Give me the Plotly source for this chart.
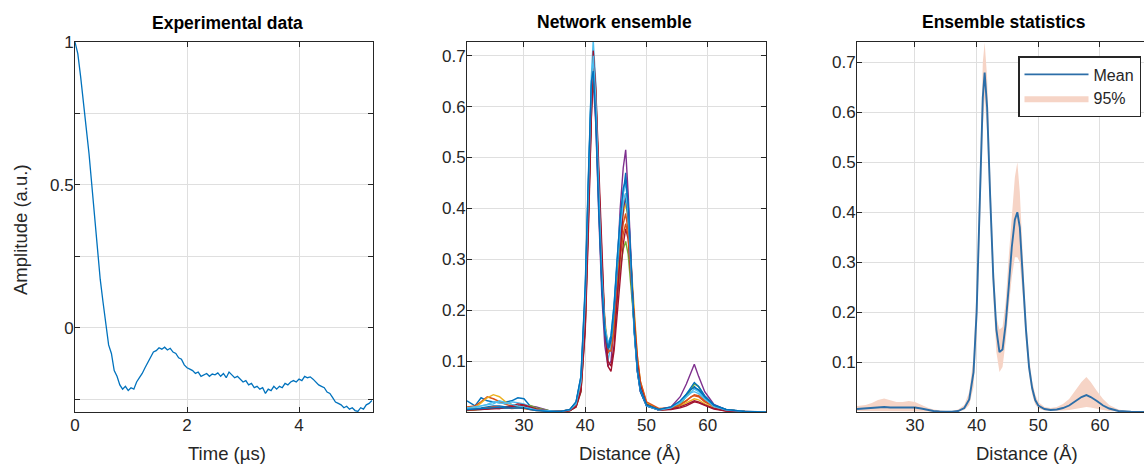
import plotly.graph_objects as go

# ---------------- Data ----------------
# Panel 1: experimental time trace
time_us = [0.00, 0.05, 0.10, 0.15, 0.20, 0.25, 0.30, 0.35, 0.40, 0.45,
           0.50, 0.55, 0.60, 0.65, 0.70, 0.75, 0.80, 0.85, 0.90, 0.95,
           1.00, 1.05, 1.10, 1.15, 1.20, 1.25, 1.30, 1.35, 1.40, 1.45,
           1.50, 1.55, 1.60, 1.65, 1.70, 1.75, 1.80, 1.85, 1.90, 1.95,
           2.00, 2.05, 2.10, 2.15, 2.20, 2.25, 2.30, 2.35, 2.40, 2.45,
           2.50, 2.55, 2.60, 2.65, 2.70, 2.75, 2.80, 2.85, 2.90, 2.95,
           3.00, 3.05, 3.10, 3.15, 3.20, 3.25, 3.30, 3.35, 3.40, 3.45,
           3.50, 3.55, 3.60, 3.65, 3.70, 3.75, 3.80, 3.85, 3.90, 3.95,
           4.00, 4.05, 4.10, 4.15, 4.20, 4.25, 4.30, 4.35, 4.40, 4.45,
           4.50, 4.55, 4.60, 4.65, 4.70, 4.75, 4.80, 4.85, 4.90, 4.95,
           5.00, 5.05, 5.10, 5.15, 5.20, 5.25, 5.30]
amplitude = [1.00, 0.96, 0.88, 0.78, 0.70, 0.61, 0.50, 0.40, 0.28, 0.17,
             0.09, 0.01, -0.06, -0.09, -0.15, -0.17, -0.20, -0.215, -0.205, -0.22,
             -0.21, -0.215, -0.19, -0.175, -0.16, -0.14, -0.12, -0.10, -0.085, -0.08,
             -0.07, -0.075, -0.068, -0.078, -0.072, -0.085, -0.09, -0.105, -0.11, -0.13,
             -0.14, -0.145, -0.15, -0.16, -0.155, -0.17, -0.165, -0.16, -0.17, -0.162,
             -0.165, -0.158, -0.17, -0.16, -0.175, -0.155, -0.165, -0.175, -0.17, -0.18,
             -0.19, -0.185, -0.20, -0.195, -0.21, -0.205, -0.215, -0.21, -0.23, -0.215,
             -0.22, -0.205, -0.215, -0.205, -0.21, -0.195, -0.20, -0.19, -0.185, -0.19,
             -0.18, -0.185, -0.17, -0.175, -0.172, -0.18, -0.19, -0.20, -0.205, -0.21,
             -0.225, -0.23, -0.245, -0.26, -0.265, -0.27, -0.28, -0.275, -0.285, -0.28,
             -0.29, -0.293, -0.28, -0.285, -0.27, -0.265, -0.255]

# Panel 2: network ensemble distance distributions
dist = [20.7, 22, 23, 24, 25, 26, 27, 28, 29, 30, 31, 32, 34, 36,
        37.5, 38.5, 39.3, 40, 40.5, 41, 41.3, 41.7, 42.2, 42.7, 43.2, 43.7,
        44.2, 44.7, 45.2, 45.7, 46.2, 46.6, 47, 47.5, 48, 48.5, 49, 50,
        52, 54, 55.5, 56.5, 57.3, 57.8, 58.5, 59.5, 61, 63, 66, 69.5]

net_01 = [0.022, 0.012, 0.028, 0.022, 0.020, 0.018, 0.020, 0.022, 0.028, 0.026, 0.012, 0.006, 0.002, 0.001,
          0.004, 0.016, 0.055, 0.21, 0.41, 0.63, 0.68, 0.61, 0.43, 0.27, 0.17, 0.13,
          0.14, 0.20, 0.29, 0.37, 0.43, 0.47, 0.41, 0.28, 0.16, 0.08, 0.04, 0.012,
          0.004, 0.008, 0.020, 0.032, 0.045, 0.050, 0.042, 0.028, 0.012, 0.004, 0.001, 0.0]
net_02 = [0.010, 0.012, 0.020, 0.030, 0.026, 0.020, 0.015, 0.012, 0.010, 0.009, 0.006, 0.004, 0.002, 0.001,
          0.005, 0.018, 0.06, 0.20, 0.40, 0.61, 0.67, 0.60, 0.43, 0.27, 0.16, 0.115,
          0.125, 0.175, 0.25, 0.32, 0.37, 0.39, 0.355, 0.26, 0.165, 0.095, 0.055, 0.016,
          0.006, 0.008, 0.015, 0.022, 0.030, 0.032, 0.030, 0.020, 0.010, 0.004, 0.001, 0.0]
net_03 = [0.005, 0.008, 0.018, 0.028, 0.034, 0.030, 0.020, 0.015, 0.012, 0.010, 0.007, 0.004, 0.002, 0.001,
          0.003, 0.012, 0.045, 0.18, 0.38, 0.62, 0.69, 0.63, 0.46, 0.29, 0.18, 0.13,
          0.135, 0.185, 0.26, 0.34, 0.39, 0.41, 0.38, 0.29, 0.19, 0.11, 0.06, 0.018,
          0.005, 0.006, 0.012, 0.018, 0.024, 0.026, 0.024, 0.016, 0.008, 0.003, 0.001, 0.0]
net_04 = [0.004, 0.005, 0.006, 0.008, 0.010, 0.010, 0.009, 0.010, 0.012, 0.014, 0.012, 0.010, 0.003, 0.001,
          0.003, 0.012, 0.05, 0.19, 0.39, 0.60, 0.65, 0.57, 0.39, 0.23, 0.13, 0.09,
          0.10, 0.17, 0.28, 0.40, 0.48, 0.515, 0.43, 0.29, 0.16, 0.08, 0.04, 0.012,
          0.005, 0.010, 0.030, 0.055, 0.078, 0.094, 0.070, 0.040, 0.015, 0.004, 0.001, 0.0]
net_05 = [0.003, 0.004, 0.005, 0.006, 0.007, 0.008, 0.009, 0.010, 0.011, 0.012, 0.013, 0.008, 0.003, 0.001,
          0.003, 0.010, 0.04, 0.17, 0.37, 0.60, 0.66, 0.60, 0.44, 0.28, 0.17, 0.125,
          0.13, 0.17, 0.22, 0.28, 0.32, 0.335, 0.31, 0.24, 0.16, 0.10, 0.055, 0.016,
          0.004, 0.006, 0.014, 0.030, 0.045, 0.055, 0.050, 0.030, 0.012, 0.004, 0.001, 0.0]
net_06 = [0.008, 0.010, 0.012, 0.015, 0.020, 0.018, 0.016, 0.020, 0.018, 0.016, 0.010, 0.005, 0.002, 0.001,
          0.004, 0.018, 0.065, 0.23, 0.44, 0.66, 0.73, 0.65, 0.46, 0.28, 0.17, 0.10,
          0.13, 0.20, 0.30, 0.38, 0.43, 0.45, 0.40, 0.28, 0.16, 0.085, 0.045, 0.013,
          0.004, 0.008, 0.018, 0.030, 0.038, 0.040, 0.036, 0.024, 0.010, 0.003, 0.001, 0.0]
net_07 = [0.006, 0.006, 0.007, 0.006, 0.008, 0.007, 0.010, 0.012, 0.016, 0.014, 0.010, 0.006, 0.002, 0.001,
          0.003, 0.010, 0.04, 0.16, 0.35, 0.58, 0.66, 0.62, 0.46, 0.29, 0.16, 0.09,
          0.08, 0.12, 0.19, 0.27, 0.33, 0.36, 0.34, 0.26, 0.17, 0.10, 0.055, 0.015,
          0.004, 0.005, 0.008, 0.012, 0.017, 0.020, 0.018, 0.013, 0.006, 0.002, 0.0005, 0.0]
net_08 = [0.005, 0.006, 0.008, 0.010, 0.012, 0.012, 0.010, 0.010, 0.010, 0.009, 0.006, 0.004, 0.002, 0.001,
          0.005, 0.020, 0.07, 0.24, 0.45, 0.64, 0.68, 0.60, 0.41, 0.25, 0.155, 0.12,
          0.14, 0.20, 0.28, 0.35, 0.40, 0.42, 0.38, 0.27, 0.155, 0.08, 0.04, 0.012,
          0.004, 0.009, 0.020, 0.035, 0.050, 0.058, 0.050, 0.032, 0.014, 0.005, 0.001, 0.0]
net_09 = [0.004, 0.005, 0.006, 0.008, 0.010, 0.009, 0.008, 0.007, 0.008, 0.007, 0.005, 0.003, 0.002, 0.001,
          0.004, 0.014, 0.05, 0.19, 0.39, 0.62, 0.70, 0.63, 0.45, 0.28, 0.17, 0.12,
          0.12, 0.16, 0.23, 0.30, 0.35, 0.37, 0.345, 0.27, 0.18, 0.11, 0.06, 0.02,
          0.007, 0.008, 0.014, 0.022, 0.030, 0.034, 0.032, 0.022, 0.011, 0.004, 0.001, 0.0]
net_10 = [0.004, 0.004, 0.005, 0.006, 0.006, 0.007, 0.008, 0.010, 0.013, 0.012, 0.008, 0.005, 0.002, 0.001,
          0.003, 0.011, 0.045, 0.17, 0.37, 0.60, 0.71, 0.64, 0.47, 0.30, 0.17, 0.10,
          0.09, 0.13, 0.22, 0.32, 0.40, 0.43, 0.39, 0.28, 0.17, 0.095, 0.05, 0.014,
          0.004, 0.006, 0.010, 0.015, 0.020, 0.022, 0.020, 0.014, 0.007, 0.002, 0.0005, 0.0]
net_11 = [0.007, 0.008, 0.012, 0.014, 0.016, 0.022, 0.018, 0.015, 0.012, 0.010, 0.007, 0.004, 0.002, 0.001,
          0.004, 0.016, 0.06, 0.22, 0.43, 0.64, 0.70, 0.62, 0.44, 0.27, 0.17, 0.135,
          0.15, 0.21, 0.29, 0.36, 0.41, 0.43, 0.39, 0.27, 0.16, 0.085, 0.045, 0.013,
          0.004, 0.008, 0.020, 0.030, 0.040, 0.045, 0.040, 0.026, 0.011, 0.004, 0.001, 0.0]
net_12 = [0.005, 0.006, 0.007, 0.008, 0.009, 0.009, 0.008, 0.008, 0.009, 0.008, 0.005, 0.003, 0.001, 0.001,
          0.005, 0.020, 0.07, 0.25, 0.46, 0.65, 0.67, 0.58, 0.40, 0.25, 0.16, 0.125,
          0.15, 0.21, 0.30, 0.38, 0.44, 0.455, 0.41, 0.29, 0.165, 0.085, 0.045, 0.014,
          0.005, 0.010, 0.022, 0.035, 0.045, 0.048, 0.044, 0.030, 0.013, 0.005, 0.001, 0.0]

networks = [net_01, net_02, net_03, net_04, net_05, net_06,
            net_07, net_08, net_09, net_10, net_11, net_12]
net_colors = ["#0072BD", "#D95319", "#EDB120", "#7E2F8E", "#77AC30", "#4DBEEE",
              "#A2142F", "#0072BD", "#D95319", "#A2142F", "#4DBEEE", "#0072BD"]

# Panel 3: ensemble statistics
dist_stat = [20.6, 22, 23, 24, 25, 26, 27, 28, 29, 30, 31, 32, 33, 34, 35, 36, 37, 38, 38.8, 39.5,
             40, 40.5, 41, 41.3, 41.7, 42.2, 42.7, 43.2, 43.7, 44.2, 44.7, 45.2, 45.7, 46.2, 46.6,
             47, 47.5, 48, 48.5, 49, 49.5, 50, 51, 52, 53, 54, 55, 56, 57, 57.8, 58.5, 59.5,
             60.5, 61.5, 63, 65, 67.2]
mean_vals = [0.006, 0.007, 0.008, 0.009, 0.010, 0.009, 0.009, 0.008, 0.009, 0.009, 0.007, 0.004, 0.002,
             0.001, 0.0005, 0.0008, 0.002, 0.008, 0.025, 0.08,
             0.20, 0.41, 0.63, 0.68, 0.61, 0.43, 0.27, 0.165, 0.12, 0.125, 0.175, 0.25, 0.33, 0.385, 0.40,
             0.37, 0.27, 0.165, 0.09, 0.048, 0.024, 0.013, 0.006, 0.004, 0.005, 0.008, 0.013, 0.021, 0.030,
             0.034, 0.030, 0.022, 0.013, 0.007, 0.002, 0.0005, 0.0]
upper_95 = [0.012, 0.014, 0.018, 0.024, 0.027, 0.024, 0.020, 0.020, 0.022, 0.020, 0.014, 0.009, 0.005,
            0.003, 0.002, 0.002, 0.005, 0.014, 0.04, 0.11,
            0.25, 0.47, 0.70, 0.74, 0.67, 0.48, 0.31, 0.19, 0.165, 0.17, 0.22, 0.31, 0.40, 0.47, 0.50,
            0.44, 0.31, 0.19, 0.11, 0.062, 0.035, 0.020, 0.010, 0.008, 0.010, 0.016, 0.026, 0.042, 0.060,
            0.070, 0.060, 0.042, 0.026, 0.014, 0.005, 0.001, 0.0]
lower_95 = [0.002, 0.002, 0.002, 0.002, 0.002, 0.002, 0.002, 0.002, 0.002, 0.002, 0.001, 0.001, 0.0,
            0.0, 0.0, 0.0, 0.001, 0.004, 0.014, 0.05,
            0.15, 0.35, 0.57, 0.63, 0.56, 0.39, 0.23, 0.12, 0.08, 0.09, 0.14, 0.21, 0.27, 0.31, 0.31,
            0.30, 0.23, 0.14, 0.075, 0.035, 0.015, 0.007, 0.003, 0.002, 0.002, 0.003, 0.004, 0.006, 0.009,
            0.010, 0.009, 0.006, 0.004, 0.002, 0.001, 0.0, 0.0]

assert len(time_us) == len(amplitude)
assert all(len(n) == len(dist) for n in networks)
assert len(dist_stat) == len(mean_vals) == len(upper_95) == len(lower_95)

# ---------------- Figure ----------------
FONT = "Liberation Sans, Arial, sans-serif"
TXT = "#262626"
GRID = "#DFDFDF"
W, H = 1144, 466

fig = go.Figure()

fig.add_trace(go.Scatter(x=time_us, y=amplitude, mode="lines",
                         line=dict(color="#0072BD", width=1.3),
                         showlegend=False, xaxis="x", yaxis="y"))

for vals, col in zip(networks, net_colors):
    fig.add_trace(go.Scatter(x=dist, y=vals, mode="lines",
                             line=dict(color=col, width=1.4),
                             showlegend=False, xaxis="x2", yaxis="y2"))

fig.add_trace(go.Scatter(x=dist_stat, y=upper_95, mode="lines",
                         line=dict(width=0, color="#F6D4C6"),
                         showlegend=False, hoverinfo="skip", xaxis="x3", yaxis="y3"))
fig.add_trace(go.Scatter(x=dist_stat, y=lower_95, mode="lines", fill="tonexty",
                         fillcolor="#F6D4C6", line=dict(width=0, color="#F6D4C6"),
                         name="95%", legendrank=2, xaxis="x3", yaxis="y3"))
fig.add_trace(go.Scatter(x=dist_stat, y=mean_vals, mode="lines",
                         line=dict(color="#2C6EA8", width=1.9),
                         name="Mean", legendrank=1, xaxis="x3", yaxis="y3"))

tickfont = dict(family=FONT, size=17, color=TXT)
axis_common = dict(showline=True, linecolor=TXT, linewidth=1,
                   ticks="inside", ticklen=5, tickcolor=TXT, showgrid=True,
                   gridcolor=GRID, gridwidth=1, zeroline=False, automargin=False,
                   tickfont=tickfont)
xa = dict(axis_common, mirror="ticks", ticklabelstandoff=-2)
ya = dict(axis_common, ticklabelstandoff=-3)

yb, yt = 1 - 412 / H, 1 - 42 / H

fig.update_layout(
    width=W, height=H,
    margin=dict(l=0, r=0, t=0, b=0, pad=0, autoexpand=False),
    paper_bgcolor="white", plot_bgcolor="white",
    font=dict(family=FONT, color=TXT),
    xaxis=dict(xa, domain=[75 / W, 373 / W], range=[0, 5.32],
               tickvals=[0, 2, 4], anchor="y"),
    yaxis=dict(ya, mirror="ticks", domain=[yb, yt], range=[-0.295, 1.0005], anchor="x",
               tickvals=[-0.25, 0, 0.25, 0.5, 0.75, 1],
               ticktext=["", "0", "", "0.5", "", "1"]),
    xaxis2=dict(xa, domain=[467 / W, 766 / W], range=[20.7, 69.5],
                tickvals=[30, 40, 50, 60], anchor="y2"),
    yaxis2=dict(ya, mirror="ticks", domain=[yb, yt], range=[0, 0.727], anchor="x2",
                tickvals=[0.1, 0.2, 0.3, 0.4, 0.5, 0.6, 0.7]),
    xaxis3=dict(xa, domain=[857 / W, 1.0], range=[20.6, 67.14],
                tickvals=[30, 40, 50, 60], anchor="y3"),
    yaxis3=dict(ya, mirror=False, domain=[yb, yt], range=[0, 0.741], anchor="x3",
                tickvals=[0.1, 0.2, 0.3, 0.4, 0.5, 0.6, 0.7]),
    legend=dict(x=1018 / W, y=1 - 56 / H, xanchor="left", yanchor="top",
                bgcolor="white", bordercolor=TXT, borderwidth=1.5,
                font=dict(family=FONT, size=16, color=TXT),
                traceorder="normal", itemwidth=64, tracegroupgap=0),
)

def label(text, xc, yc, size=18.5, bold=False, angle=0):
    fig.add_annotation(text=f"<b>{text}</b>" if bold else text,
                       x=xc / W, y=1 - yc / H, xref="paper", yref="paper",
                       xanchor="center", yanchor="middle", showarrow=False, textangle=angle,
                       font=dict(family=FONT, size=size, color="black" if bold else TXT))

label("Experimental data", 227, 23, size=17.5, bold=True)
label("Network ensemble", 614, 22, size=17.5, bold=True)
label("Ensemble statistics", 1004, 22, size=17.5, bold=True)
label("Time (µs)", 227, 453)
label("Distance (Å)", 630, 453)
label("Distance (Å)", 1027, 453)
label("Amplitude (a.u.)", 20, 230, angle=-90)

fig.write_html("out.html")
